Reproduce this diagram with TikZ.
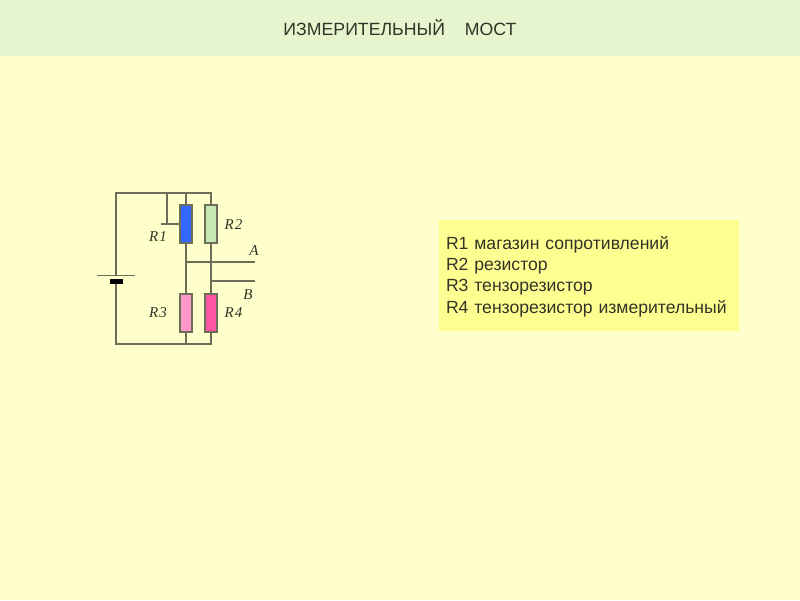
\documentclass[tikz,border=0pt]{standalone}
\usepackage{fontspec}
\setmainfont{Liberation Sans}
\newfontfamily\labelfont[LetterSpace=6]{Liberation Serif}
\definecolor{pagebg}{HTML}{FFFFCC}
\definecolor{headbg}{HTML}{E6F5CE}
\definecolor{boxbg}{HTML}{FFFF91}
\definecolor{wirecol}{HTML}{6E6E58}
\definecolor{inkcol}{HTML}{333328}
\definecolor{rone}{HTML}{3366FF}
\definecolor{rtwo}{HTML}{C6E6B4}
\definecolor{rthree}{HTML}{FF99CC}
\definecolor{rfour}{HTML}{FF55A5}
\tikzset{
	wire/.style = {draw = wirecol, line width = 1.4pt},
	resistor/.style = {draw = wirecol, line width = 1.2pt, minimum width = 12pt, minimum height = 38pt, inner sep = 0pt},
	rlabel/.style = {text = inkcol, font = \labelfont\itshape\fontsize{15}{15}\selectfont, inner sep = 0pt}
}
\begin{document}
\begin{tikzpicture}[x = 1pt, y = -1pt]
	\useasboundingbox (0, 0) rectangle (800, 600);
	\fill[pagebg] (0, 0) rectangle (800, 600);
	\node[fill = headbg, minimum width = 800pt, minimum height = 56pt, inner sep = 0pt, text = inkcol, font = \fontsize{17.7}{17.7}\selectfont] (title) at (400, 28) {ИЗМЕРИТЕЛЬНЫЙ\hspace{20pt}МОСТ};
	\node[fill = boxbg, minimum width = 300pt, minimum height = 111pt, inner sep = 0pt, text width = 286pt, align = left, text = inkcol, font = \fontsize{17.6}{21.4}\selectfont] (legend) at (589, 275.5) {\rule{0pt}{15pt}R1 магазин сопротивлений\\R2 резистор\\R3 тензорезистор\\R4 тензорезистор измерительный};
	% resistors
	\node[resistor, fill = rone] (r1) at (186, 224) {};
	\node[resistor, fill = rtwo] (r2) at (211, 224) {};
	\node[resistor, fill = rthree] (r3) at (186, 313) {};
	\node[resistor, fill = rfour] (r4) at (211, 313) {};
	% battery
	\node[fill = black, minimum width = 13pt, minimum height = 5pt, inner sep = 0pt] (cell) at (116, 281.5) {};
	\coordinate (plusl) at (97, 275);
	\coordinate (plusr) at (135, 275);
	\coordinate (plus) at (116, 275);
	% corners
	\coordinate (tl) at (116, 193);
	\coordinate (tr) at (211, 193);
	\coordinate (tm) at (186, 193);
	\coordinate (tap) at (167, 193);
	\coordinate (bl) at (116, 344);
	\coordinate (br) at (211, 344);
	\coordinate (bm) at (186, 344);
	\coordinate (wiper) at (161, 224);
	\coordinate (tapend) at (167, 224);
	\coordinate (ja) at (186, 262);
	\coordinate (jb) at (211, 281);
	\coordinate (enda) at (255, 262);
	\coordinate (endb) at (255, 281);
	\draw[wire] (plus) -- (tl) -- (tr) -- (r2.north);
	\draw[wire] (tm) -- (r1.north);
	\draw[wire] (tap) -- (tapend);
	\draw[wire] (wiper) -- (r1.west);
	\draw[wire] (r1.south) -- (r3.north);
	\draw[wire] (r2.south) -- (r4.north);
	\draw[wire] (ja) -- (enda);
	\draw[wire] (jb) -- (endb);
	\draw[wire] (r3.south) -- (bm);
	\draw[wire] (r4.south) -- (br) -- (bl) -- (cell.south);
	\draw[draw = wirecol, line width = 1pt] (plusl) -- (plusr);
	% labels
	\node[rlabel] (lr1) at (158, 237) {R1};
	\node[rlabel] (lr2) at (233.5, 225) {R2};
	\node[rlabel] (lr3) at (158, 313) {R3};
	\node[rlabel] (lr4) at (233.5, 313) {R4};
	\node[rlabel] (la) at (254, 251) {A};
	\node[rlabel] (lb) at (248, 294.5) {B};
\end{tikzpicture}
\end{document}
